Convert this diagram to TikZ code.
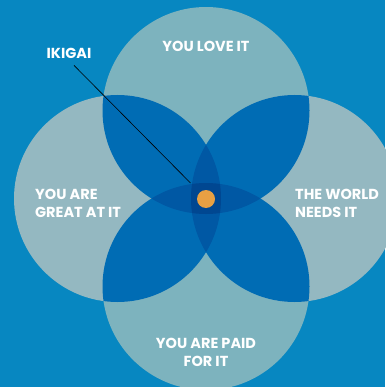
\documentclass[tikz,border=0pt]{standalone}
\usepackage{fontspec}
\setmainfont{Poppins}
\definecolor{sea}{HTML}{0787C1}
\definecolor{pale}{HTML}{7DB3BE}
\definecolor{greyish}{HTML}{94B8C1}
\definecolor{petal}{HTML}{006CB4}
\definecolor{lens}{HTML}{0058A4}
\definecolor{core}{HTML}{004791}
\definecolor{dot}{HTML}{E8A043}
\tikzset{
  caption/.style = {
    text=white, inner sep=0pt,
    font=\fontsize{14.5}{18}\selectfont\bfseries
  }
}

\begin{document}
\begin{tikzpicture}[x=1pt,y=-1pt]
  \fill[sea] (0,0) rectangle (385,387);
  \useasboundingbox (0,0) rectangle (385,387);
  %
  \def\rad{103.5pt}
  \coordinate (top) at (206,110.5);
  \coordinate (bottom) at (206,286.5);
  \coordinate (left) at (117.5,198.5);
  \coordinate (right) at (294.5,198.5);
  %
  \fill[pale] (top) circle (\rad);
  \fill[pale] (bottom) circle (\rad);
  \fill[greyish] (left) circle (\rad);
  \fill[greyish] (right) circle (\rad);
  %
  \begin{scope}
    \clip (top) circle (\rad);
    \fill[petal] (left) circle (\rad);
    \fill[petal] (right) circle (\rad);
  \end{scope}
  \begin{scope}
    \clip (bottom) circle (\rad);
    \fill[petal] (left) circle (\rad);
    \fill[petal] (right) circle (\rad);
  \end{scope}
  %
  \begin{scope}
    \clip (left) circle (\rad);
    \fill[lens] (right) circle (\rad);
  \end{scope}
  \begin{scope}
    \clip (top) circle (\rad);
    \fill[lens] (bottom) circle (\rad);
  \end{scope}
  %
  \begin{scope}
    \clip (top) circle (\rad);
    \clip (bottom) circle (\rad);
    \clip (left) circle (\rad);
    \fill[core] (right) circle (\rad);
  \end{scope}
  %
  \fill[dot] (206,199) circle (9pt);
  \coordinate (corner) at (190.5,183);
  %
  \node[caption] (ikigai) at (69,53) {IKIGAI};
  \draw[black, line width=0.6pt] ([xshift=5pt,yshift=-7pt]ikigai.south) -- (corner);
  %
  \node[caption] (love) at (206,46) {YOU LOVE IT};
  \node[caption, anchor=west, align=left] (great) at (35,203) {YOU ARE\\GREAT AT IT};
  \node[caption, anchor=west, align=left] (world) at (295,203) {THE WORLD\\NEEDS IT};
  \node[caption, align=center] (paid) at (206,352.5) {YOU ARE PAID\\FOR IT};
\end{tikzpicture}
\end{document}
